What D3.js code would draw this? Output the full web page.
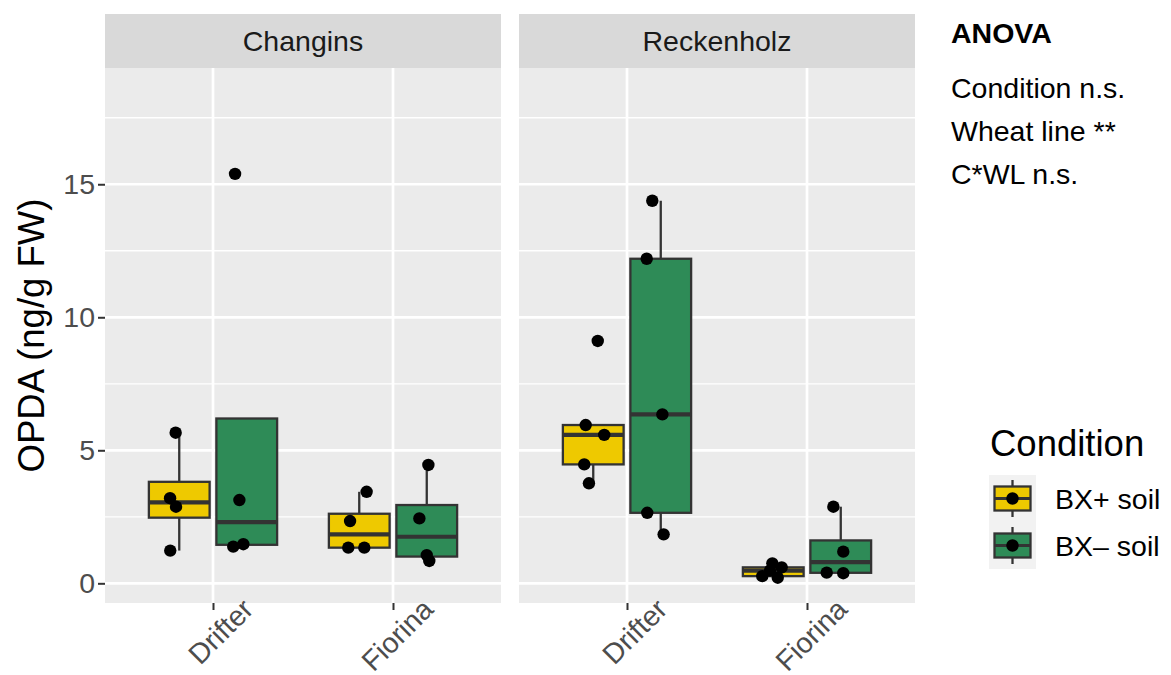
<!DOCTYPE html>
<html>
<head>
    <title></title>
    <meta charset="utf-8">
    <style>
        body { margin: 0; background: #fff; }
        text { font-family: "Liberation Sans", Arial, sans-serif; }
    </style>
</head>
<body>
<script src="https://d3js.org/d3.v7.min.js"></script>
<script>
    // values, group order: Drifter BX+, Drifter BX-, Fiorina BX+, Fiorina BX-
    var sites = ['Changins', 'Reckenholz'];
    var wheatLines = ['Drifter', 'Fiorina'];
    var conditions = ['BX+ soil', 'BX\u2013 soil'];
    var groupLine = ['Drifter', 'Drifter', 'Fiorina', 'Fiorina'];
    var groupCondition = ['BX+ soil', 'BX\u2013 soil', 'BX+ soil', 'BX\u2013 soil'];

    var changinsOPDA = [
        [5.66, 3.20, 2.88, 1.23],
        [15.39, 3.13, 1.38, 1.47],
        [3.44, 2.34, 1.34, 1.34],
        [4.45, 2.44, 1.06, 0.84]
    ];
    var reckenholzOPDA = [
        [9.11, 5.95, 5.58, 4.47, 3.76],
        [14.38, 12.20, 6.35, 2.65, 1.84],
        [0.75, 0.60, 0.48, 0.27, 0.21],
        [2.88, 1.19, 0.40, 0.38]
    ];
    // horizontal jitter of each point, in category units
    var changinsJitter = [
        [-0.020, -0.051, -0.018, -0.050],
        [-0.065, -0.041, -0.075, -0.019],
        [0.041, -0.051, -0.061, 0.028],
        [0.009, -0.041, 0.000, 0.014]
    ];
    var reckenholzJitter = [
        [0.025, -0.042, 0.061, -0.050, -0.024],
        [-0.047, -0.078, 0.009, -0.075, 0.016],
        [-0.005, 0.047, -0.018, -0.061, 0.025],
        [-0.041, 0.014, -0.078, 0.014]
    ];
    var yTicks = [0, 5, 10, 15];
    var yMinor = [2.5, 7.5, 12.5, 17.5];
    var anovaLines = ['Condition n.s.', 'Wheat line **', 'C*WL n.s.'];

    var fills = d3.scaleOrdinal().domain(conditions).range(['#EEC900', '#2E8B57']);
    var dodge = d3.scaleOrdinal().domain(conditions).range([-0.1875, 0.1875]);

    var W = 1171, H = 675;
    var panelTop = 68, panelBottom = 603, panelW = 396;
    var panelLeft = [105, 519];

    var svg = d3.select('body').append('svg')
        .attr('width', W)
        .attr('height', H);

    svg.append('rect').attr('width', W).attr('height', H).attr('fill', '#fff');

    var y = d3.scaleLinear().domain([-0.74, 19.37]).range([panelBottom, panelTop]);

    var siteData = [changinsOPDA, reckenholzOPDA];
    var siteJitter = [changinsJitter, reckenholzJitter];

    sites.forEach(function (site, s) {
        var x0 = panelLeft[s];
        var x = d3.scalePoint().domain(wheatLines).range([x0, x0 + panelW]).padding(0.6);
        var step = x.step();
        var g = svg.append('g');

        // strip
        g.append('rect').attr('x', x0).attr('y', 14).attr('width', panelW).attr('height', panelTop - 14)
            .attr('fill', '#D9D9D9');
        g.append('text').attr('x', x0 + panelW / 2).attr('y', 51)
            .attr('text-anchor', 'middle').attr('font-size', 28.5).attr('fill', '#1A1A1A')
            .text(site);

        // panel
        g.append('rect').attr('x', x0).attr('y', panelTop).attr('width', panelW)
            .attr('height', panelBottom - panelTop).attr('fill', '#EBEBEB');
        g.selectAll('.minor').data(yMinor).enter().append('line')
            .attr('x1', x0).attr('x2', x0 + panelW)
            .attr('y1', function (d) { return y(d); }).attr('y2', function (d) { return y(d); })
            .attr('stroke', '#fff').attr('stroke-width', 1.3);
        g.selectAll('.major').data(yTicks).enter().append('line')
            .attr('x1', x0).attr('x2', x0 + panelW)
            .attr('y1', function (d) { return y(d); }).attr('y2', function (d) { return y(d); })
            .attr('stroke', '#fff').attr('stroke-width', 2.7);
        g.selectAll('.vmajor').data(wheatLines).enter().append('line')
            .attr('x1', function (d) { return x(d); }).attr('x2', function (d) { return x(d); })
            .attr('y1', panelTop).attr('y2', panelBottom)
            .attr('stroke', '#fff').attr('stroke-width', 2.7);

        // boxes
        var groups = siteData[s].map(function (vals, i) {
            var sorted = vals.slice().sort(d3.ascending);
            var q1 = d3.quantile(sorted, 0.25), med = d3.quantile(sorted, 0.5), q3 = d3.quantile(sorted, 0.75);
            var iqr = q3 - q1;
            var hi = d3.max(sorted.filter(function (v) { return v <= q3 + 1.5 * iqr; }));
            var lo = d3.min(sorted.filter(function (v) { return v >= q1 - 1.5 * iqr; }));
            return {
                cx: x(groupLine[i]) + dodge(groupCondition[i]) * step,
                cond: groupCondition[i], q1: q1, med: med, q3: q3, hi: hi, lo: lo,
                vals: vals, jit: siteJitter[s][i]
            };
        });
        var bw = 0.3375 * step;

        groups.forEach(function (d) {
            var bg = g.append('g');
            bg.append('line').attr('x1', d.cx).attr('x2', d.cx)
                .attr('y1', y(d.q3)).attr('y2', y(d.hi)).attr('stroke', '#333').attr('stroke-width', 2.3);
            bg.append('line').attr('x1', d.cx).attr('x2', d.cx)
                .attr('y1', y(d.q1)).attr('y2', y(d.lo)).attr('stroke', '#333').attr('stroke-width', 2.3);
            bg.append('rect').attr('x', d.cx - bw / 2).attr('y', y(d.q3))
                .attr('width', bw).attr('height', y(d.q1) - y(d.q3))
                .attr('fill', fills(d.cond)).attr('stroke', '#333').attr('stroke-width', 2.3);
            bg.append('line').attr('x1', d.cx - bw / 2).attr('x2', d.cx + bw / 2)
                .attr('y1', y(d.med)).attr('y2', y(d.med)).attr('stroke', '#333').attr('stroke-width', 4.2);
        });

        // jittered points
        groups.forEach(function (d) {
            g.selectAll(null).data(d.vals).enter().append('circle')
                .attr('cx', function (v, j) { return d.cx + d.jit[j] * step; })
                .attr('cy', function (v) { return y(v); })
                .attr('r', 6.2).attr('fill', '#000');
        });

        // x axis
        var xa = g.append('g').attr('transform', 'translate(0,' + panelBottom + ')')
            .call(d3.axisBottom(x).tickSize(7).tickFormat(''));
        xa.select('.domain').remove();
        xa.selectAll('.tick line').attr('stroke', '#333').attr('stroke-width', 2);
        g.selectAll('.xlab').data(wheatLines).enter().append('text')
            .attr('transform', function (d) { return 'translate(' + (x(d) + 35) + ',' + 604 + ') rotate(-45)'; })
            .attr('text-anchor', 'end').attr('dy', '0.35em')
            .attr('font-size', 28.5).attr('fill', '#4D4D4D')
            .text(function (d) { return d; });
    });

    // y axis
    var ya = svg.append('g').attr('transform', 'translate(' + panelLeft[0] + ',0)')
        .call(d3.axisLeft(y).tickValues(yTicks).tickSize(7).tickPadding(3));
    ya.select('.domain').remove();
    ya.selectAll('.tick line').attr('stroke', '#333').attr('stroke-width', 2);
    ya.selectAll('.tick text').attr('font-size', 28.5).attr('fill', '#4D4D4D')
        .attr('font-family', '"Liberation Sans", Arial, sans-serif');

    svg.append('text')
        .attr('transform', 'translate(44,' + ((panelTop + panelBottom) / 2) + ') rotate(-90)')
        .attr('text-anchor', 'middle').attr('font-size', 36.5).attr('fill', '#000')
        .text('OPDA (ng/g FW)');

    // ANOVA note
    svg.append('text').attr('x', 951).attr('y', 43)
        .attr('font-size', 28.5).attr('font-weight', 'bold').attr('fill', '#000').text('ANOVA');
    svg.selectAll('.anova').data(anovaLines).enter().append('text')
        .attr('x', 951).attr('y', function (d, i) { return 98 + i * 43; })
        .attr('font-size', 28.5).attr('fill', '#000')
        .text(function (d) { return d; });

    // legend
    var lg = svg.append('g');
    lg.append('text').attr('x', 990).attr('y', 456)
        .attr('font-size', 36.5).attr('fill', '#000').text('Condition');
    conditions.forEach(function (c, i) {
        var ky = 475 + i * 47;
        lg.append('rect').attr('x', 989).attr('y', ky).attr('width', 47).attr('height', 47).attr('fill', '#F2F2F2');
        lg.append('line').attr('x1', 1012.5).attr('x2', 1012.5).attr('y1', ky + 5).attr('y2', ky + 42)
            .attr('stroke', '#333').attr('stroke-width', 2.3);
        lg.append('rect').attr('x', 994.5).attr('y', ky + 11.5).attr('width', 36).attr('height', 24)
            .attr('fill', fills(c)).attr('stroke', '#333').attr('stroke-width', 2.3);
        lg.append('line').attr('x1', 994.5).attr('x2', 1030.5).attr('y1', ky + 23.5).attr('y2', ky + 23.5)
            .attr('stroke', '#333').attr('stroke-width', 3);
        lg.append('circle').attr('cx', 1012.5).attr('cy', ky + 23.5).attr('r', 6.2).attr('fill', '#000');
        lg.append('text').attr('x', 1055).attr('y', ky + 34)
            .attr('font-size', 28.5).attr('fill', '#000').text(c);
    });
</script>
</body>
</html>
